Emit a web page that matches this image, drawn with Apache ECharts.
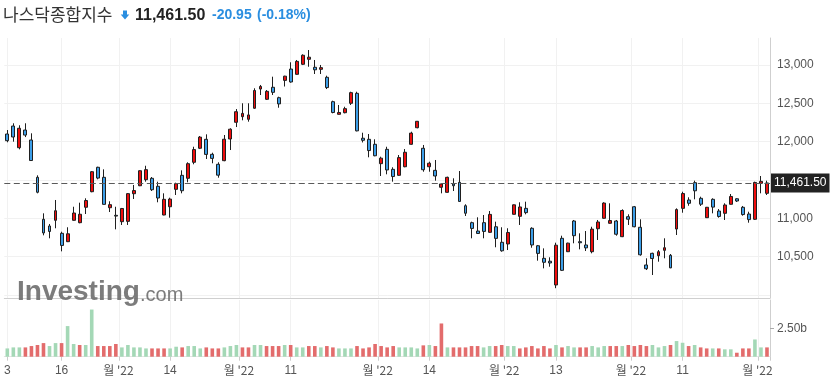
<!DOCTYPE html>
<html><head><meta charset="utf-8">
<script src="https://cdn.jsdelivr.net/npm/echarts@6/dist/echarts.min.js"></script>
<style>html,body{margin:0;padding:0;background:#fff}#c{width:836px;height:386px}</style>
</head><body><div id="c"></div>
<script>
const dates = [
'2022-06-03','2022-06-06','2022-06-07','2022-06-08','2022-06-09','2022-06-10','2022-06-13','2022-06-14','2022-06-15','2022-06-16','2022-06-17','2022-06-21','2022-06-22','2022-06-23','2022-06-24','2022-06-27','2022-06-28','2022-06-29','2022-06-30',
'2022-07-01','2022-07-05','2022-07-06','2022-07-07','2022-07-08','2022-07-11','2022-07-12','2022-07-13','2022-07-14','2022-07-15','2022-07-18','2022-07-19','2022-07-20','2022-07-21','2022-07-22','2022-07-25','2022-07-26','2022-07-27','2022-07-28','2022-07-29',
'2022-08-01','2022-08-02','2022-08-03','2022-08-04','2022-08-05','2022-08-08','2022-08-09','2022-08-10','2022-08-11','2022-08-12','2022-08-15','2022-08-16','2022-08-17','2022-08-18','2022-08-19','2022-08-22','2022-08-23','2022-08-24','2022-08-25','2022-08-26','2022-08-29','2022-08-30','2022-08-31',
'2022-09-01','2022-09-02','2022-09-06','2022-09-07','2022-09-08','2022-09-09','2022-09-12','2022-09-13','2022-09-14','2022-09-15','2022-09-16','2022-09-19','2022-09-20','2022-09-21','2022-09-22','2022-09-23','2022-09-26','2022-09-27','2022-09-28','2022-09-29','2022-09-30',
'2022-10-03','2022-10-04','2022-10-05','2022-10-06','2022-10-07','2022-10-10','2022-10-11','2022-10-12','2022-10-13','2022-10-14','2022-10-17','2022-10-18','2022-10-19','2022-10-20','2022-10-21','2022-10-24','2022-10-25','2022-10-26','2022-10-27','2022-10-28','2022-10-31',
'2022-11-01','2022-11-02','2022-11-03','2022-11-04','2022-11-07','2022-11-08','2022-11-09','2022-11-10','2022-11-11','2022-11-14','2022-11-15','2022-11-16','2022-11-17','2022-11-18','2022-11-21','2022-11-22','2022-11-23','2022-11-25','2022-11-28','2022-11-29','2022-11-30',
'2022-12-01','2022-12-02'];

const opens = [12100,12204,11921,12152,12022,11535,10987,10900,10974,10804,10695,10974,10943,11144,11347,11666,11535,11138,11039,
10956,10960,11321,11425,11504,11522,11418,11043,11151,11378,11561,11522,11731,11914,12031,11835,11705,11752,12035,12253,
12326,12292,12436,12687,12553,12710,12574,12800,12948,12879,13010,13075,12971,12944,12840,12522,12357,12378,12501,12631,12045,12031,11966,
11713,11900,11639,11561,11673,11966,12182,11914,11673,11626,11405,11339,11448,11470,11164,10943,10834,10943,10817,10890,10687,
10665,11052,11026,11130,10870,10642,10478,10440,10130,10739,10564,10965,10695,10652,10564,10864,11000,10935,10965,10760,11021,
11151,10883,10391,10543,10512,10582,10517,10860,11130,11239,11465,11261,11008,11248,11095,11065,11183,11255,11144,11056,10987,
11457,11326];
const highs = [12152,12240,12214,12240,12109,11561,11065,10926,11239,10825,10883,11151,11204,11261,11617,11673,11639,11222,11151,
11135,11330,11435,11626,11686,11539,11478,11326,11269,11465,11626,11731,11934,12074,12096,11856,11731,12087,12175,12426,
12501,12501,12697,12740,12674,12848,12587,12860,13036,13066,13140,13196,13066,13001,12861,12535,12479,12456,12652,12652,12117,12100,12031,
11804,11934,11666,11826,11904,12130,12270,11957,11739,11761,11450,11543,11522,11617,11183,10956,11013,11043,11095,10956,10883,
10870,11180,11209,11217,10883,10652,10608,10491,10682,10773,10682,10978,10804,10834,10890,10978,11209,11196,10978,11117,11052,
11161,10987,10478,10551,10586,10739,10534,11130,11347,11274,11491,11282,11148,11261,11121,11196,11317,11262,11161,11086,11478,
11552,11491];
const lows = [11992,12000,11900,12060,11750,11326,10778,10739,10870,10569,10690,10970,10935,11056,11340,11509,11180,11082,10856,
10913,10913,11252,11420,11478,11356,11209,11040,11008,11304,11326,11470,11705,11904,11774,11718,11530,11745,11891,12191,
12279,12261,12430,12609,12544,12609,12443,12720,12770,12875,13000,12978,12883,12883,12687,12370,12355,12370,12479,12135,11990,11796,11810,
11552,11574,11478,11555,11666,11960,12175,11608,11608,11491,11326,11335,11356,11215,11030,10739,10800,10739,10810,10622,10564,
10586,11050,10913,11052,10616,10447,10347,10368,10088,10312,10560,10674,10595,10573,10543,10717,10995,10930,10773,10755,10913,
10883,10512,10325,10260,10434,10478,10350,10782,11073,11164,11248,11161,11005,11065,11008,10978,11180,11213,11034,10943,10978,
11326,11304];
const closes = [12013,12061,12175,12086,11754,11340,10809,10828,11099,10646,10798,11069,11053,11232,11608,11525,11182,11178,11029,
11128,11322,11362,11621,11635,11373,11265,11248,11251,11452,11360,11713,11897,12060,11834,11782,11563,12032,12163,12391,
12369,12349,12668,12721,12657,12644,12493,12855,12779,13048,13128,13103,12938,12966,12706,12381,12381,12431,12640,12141,12018,11884,11816,
11785,11631,11545,11792,11862,12112,12266,11634,11719,11552,11448,11535,11425,11220,11066,10868,10802,10829,11051,10738,10576,
10815,11176,11148,11074,10652,10542,10426,10417,10649,10321,10676,10773,10681,10614,10859,10952,11199,10971,10792,11102,10988,
10890,10524,10342,10475,10564,10616,10353,11114,11323,11196,11359,11184,11144,11146,11024,11174,11285,11226,11049,10983,11468,
11482,11461.5];
const volumes = [0.73,0.82,0.82,0.82,0.94,1.03,1.2,0.94,1.2,1.2,2.7,1.12,1.03,1.03,4.16,0.94,0.94,0.94,1.12,
0.82,1.03,0.82,0.82,0.73,0.73,0.73,0.73,0.73,0.88,0.82,0.94,0.94,0.73,0.82,0.73,0.73,0.82,0.94,1.03,
0.82,0.82,1.03,1.03,0.94,0.94,0.94,1.03,1.03,0.82,0.82,0.94,0.94,0.82,0.94,0.82,0.73,0.73,0.73,0.94,0.73,0.82,1.12,
0.94,0.82,0.94,0.82,0.82,0.82,0.73,1.0,1.03,0.94,2.93,0.82,0.82,0.82,0.82,0.94,0.94,0.82,0.94,0.94,1.03,
0.94,0.94,0.73,0.82,0.94,0.73,0.94,0.73,1.03,0.82,0.94,0.82,0.82,0.82,0.94,0.82,0.94,0.94,0.94,0.94,1.03,
0.94,1.03,0.94,1.03,0.82,0.94,1.03,1.38,1.23,0.94,1.03,0.82,0.73,0.73,0.73,0.65,0.65,0.35,0.73,0.73,1.52,
0.82,0.82];

const dayTickDates = ['2022-06-03','2022-06-16','2022-07-14','2022-08-11','2022-09-14','2022-10-13','2022-11-11'];
const dayTickLabels = ['3','16','14','11','14','13','11'];
const monthTickDates = ['2022-07-01','2022-08-01','2022-09-01','2022-10-03','2022-11-01','2022-12-01'];
const monthTickLabels = ["월 '22","월 '22","월 '22","월 '22","월 '22","월 '22"];
const priceTicks = [10500, 11000, 11500, 12000, 12500, 13000];
const volumeTickLabel = '2.50b';

const titleName = '나스닥종합지수';
const titlePrice = '11,461.50';
const titleChange = '-20.95';
const titlePct = '(-0.18%)';

const UP = '#ee0d0d', DOWN = '#3c9ee8', EDGE = '#1f1f1f';
const VUP = '#a4d8b6', VDOWN = '#e36c6c';
const LASTC = closes[closes.length - 1];

const candleData = dates.map((d, i) => [opens[i], closes[i], lows[i], highs[i]]);
const volData = volumes.map((v, i) => ({
  value: v,
  itemStyle: { color: (i === 0 || closes[i] >= closes[i - 1]) ? VUP : VDOWN }
}));

const isDay = (idx) => dayTickDates.indexOf(dates[idx]) >= 0;
const isMonth = (idx) => monthTickDates.indexOf(dates[idx]) >= 0;
const FONT = "'Liberation Sans', Arial, sans-serif";

const chart = echarts.init(document.getElementById('c'), null, { renderer: 'canvas' });
chart.setOption({
  animation: false,
  backgroundColor: '#fff',
  grid: [
    { left: 4.3, right: 66, top: 38, height: 260 },
    { left: 4.3, right: 66, top: 300, height: 56.7 }
  ],
  xAxis: [
    { gridIndex: 0, type: 'category', data: dates, position: 'bottom', boundaryGap: true,
      axisLine: { show: true, lineStyle: { color: '#cfcfcf', width: 1 } },
      axisTick: { show: false }, axisLabel: { show: false },
      splitLine: { show: true, alignWithLabel: true, interval: (i) => isDay(i), lineStyle: { color: '#f1f1f1' } } },
    { gridIndex: 0, type: 'category', data: dates, position: 'bottom', boundaryGap: true,
      axisLine: { show: false }, axisTick: { show: false }, axisLabel: { show: false },
      splitLine: { show: true, interval: (i) => isMonth(i), lineStyle: { color: '#f1f1f1' } } },
    { gridIndex: 1, type: 'category', data: dates, position: 'bottom', boundaryGap: true,
      axisLine: { show: true, lineStyle: { color: '#e4e4e4' } },
      axisTick: { show: true, alignWithLabel: true, interval: (i) => isDay(i), length: 4, lineStyle: { color: '#cccccc' } },
      axisLabel: { show: true, interval: (i) => isDay(i), margin: 8, color: '#555', fontSize: 12, fontFamily: FONT,
        formatter: (v) => dayTickLabels[dayTickDates.indexOf(v)] },
      splitLine: { show: true, alignWithLabel: true, interval: (i) => isDay(i), lineStyle: { color: '#f1f1f1' } } },
    { gridIndex: 1, type: 'category', data: dates, position: 'bottom', boundaryGap: true,
      axisLine: { show: false },
      axisTick: { show: true, interval: (i) => isMonth(i), length: 4, lineStyle: { color: '#cccccc' } },
      axisLabel: { show: true, interval: (i) => isMonth(i), margin: 8, color: '#555', fontSize: 12,
        fontFamily: "'Noto Sans CJK KR', " + FONT, padding: [0, 7, 0, 0],
        formatter: (v) => monthTickLabels[monthTickDates.indexOf(v)] },
      splitLine: { show: true, interval: (i) => isMonth(i), lineStyle: { color: '#f1f1f1' } } }
  ],
  yAxis: [
    { gridIndex: 0, type: 'value', position: 'right', min: 9960, max: 13353, minInterval: 500, maxInterval: 500,
      axisLine: { show: true, lineStyle: { color: '#cfcfcf' } }, axisTick: { show: false },
      axisLabel: { color: '#555', fontSize: 12, margin: 7, fontFamily: FONT, showMinLabel: false, showMaxLabel: false,
        formatter: (v) => (priceTicks.indexOf(v) >= 0 && Math.abs(v - LASTC) > 200) ? v.toLocaleString('en-US') : '' },
      splitLine: { show: true, showMinLine: false, showMaxLine: false, lineStyle: { color: '#f1f1f1' } } },
    { gridIndex: 1, type: 'value', position: 'right', min: 0, max: 5, interval: 2.5,
      axisLine: { show: true, lineStyle: { color: '#cfcfcf' } },
      axisTick: { show: true, length: 4, customValues: [2.5], lineStyle: { color: '#aaa' } },
      axisLabel: { color: '#555', fontSize: 12, margin: 7, fontFamily: FONT, customValues: [2.5],
        formatter: () => volumeTickLabel },
      splitLine: { show: false } }
  ],
  series: [
    { type: 'candlestick', xAxisIndex: 0, yAxisIndex: 0, data: candleData, barWidth: 3.4,
      itemStyle: { color: UP, color0: DOWN, borderColor: EDGE, borderColor0: EDGE, borderWidth: 1 },
      markLine: { symbol: ['none', 'none'], silent: true, animation: false,
        data: [{ yAxis: LASTC }],
        lineStyle: { color: '#5a5a5a', type: [6, 3.5], width: 1 },
        label: { show: true, position: 'end', distance: 1, formatter: titlePrice, backgroundColor: '#222',
          color: '#fff', fontSize: 12, fontFamily: FONT, padding: [4, 3, 3, 3] } } },
    { type: 'bar', xAxisIndex: 2, yAxisIndex: 1, data: volData, barWidth: 3.6 }
  ],
  graphic: [
    { type: 'text', x: 3, y: 15, style: { text: titleName, fill: '#333', font: "17px 'Noto Sans CJK KR', sans-serif", verticalAlign: 'middle' } },
    { type: 'polygon', shape: { points: [[123, 10.5], [127, 10.5], [127, 14.5], [129.3, 14.5], [125, 19.5], [120.7, 14.5], [123, 14.5]] }, style: { fill: '#2a8ee0' } },
    { type: 'text', x: 135, y: 15.5, style: { text: titlePrice, fill: '#222', font: "bold 16px " + FONT, verticalAlign: 'middle' } },
    { type: 'text', x: 212, y: 15.5, style: { text: titleChange, fill: '#2a8ee0', font: "bold 14px " + FONT, verticalAlign: 'middle' } },
    { type: 'text', x: 257, y: 15.5, style: { text: titlePct, fill: '#2a8ee0', font: "bold 14px " + FONT, verticalAlign: 'middle' } },
    { type: 'text', x: 17, y: 306, z: 100, style: { text: 'Investing', fill: 'rgba(110,110,110,0.9)', font: "bold 28px " + FONT, verticalAlign: 'bottom' } },
    { type: 'text', x: 140, y: 305, z: 100, style: { text: '.com', fill: 'rgba(110,110,110,0.9)', font: "20px " + FONT, verticalAlign: 'bottom' } }
  ]
});
</script></body></html>
